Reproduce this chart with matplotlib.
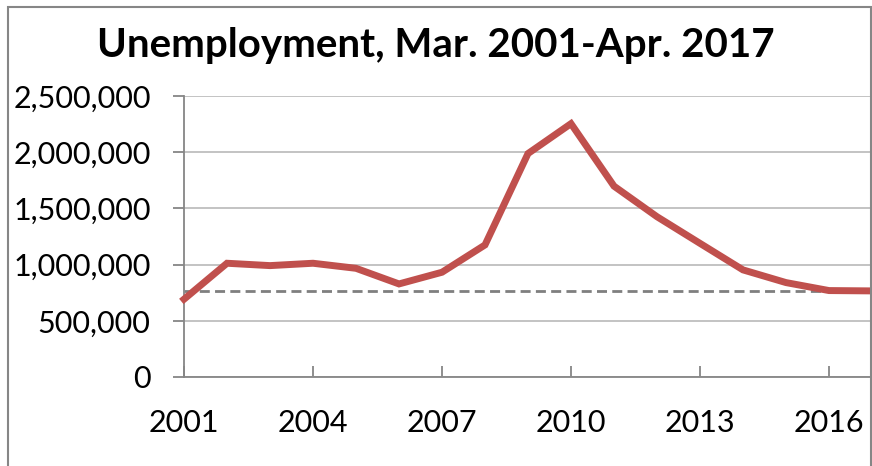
import matplotlib
matplotlib.use("Agg")
from matplotlib import pyplot as plt
from matplotlib.patches import Rectangle
from matplotlib.ticker import FuncFormatter

years = [2001, 2002, 2003, 2004, 2005, 2006, 2007, 2008, 2009,
         2010, 2011, 2012, 2013, 2014, 2015, 2016, 2017]
unemployed = [692000, 1012000, 991000, 1012000, 967000, 828000, 932000,
              1175000, 1988000, 2254000, 1698000, 1426000, 1189000,
              953000, 840000, 769000, 766000]
reference_level = 763000
tick_years = [2001, 2004, 2007, 2010, 2013, 2016]
y_ticks = [0, 500000, 1000000, 1500000, 2000000, 2500000]

plt.rcParams['font.family'] = ['Lato', 'DejaVu Sans']

fig = plt.figure(figsize=(8.72, 4.66), dpi=100)
ax = fig.add_axes([184/872, 1 - 377/466, 1 - 184/872, (377 - 96)/466])

ax.plot(years, unemployed, color="#C0504D", linewidth=5, solid_joinstyle="miter", zorder=3, clip_on=False)
ax.axhline(reference_level, color="#7F7F7F", linewidth=2, dashes=(3.6, 1.9), zorder=2)

ax.set_xlim(2001, 2017)
ax.set_ylim(0, 2500000)
ax.set_xticks(tick_years)
ax.set_yticks(y_ticks)
ax.yaxis.set_major_formatter(FuncFormatter(lambda v, p: "{:,.0f}".format(v)))
ax.grid(axis="y", color="#BEBEBE", linewidth=1.3)
ax.set_axisbelow(True)

for side in ["top", "right"]:
    ax.spines[side].set_visible(False)
for side in ["left", "bottom"]:
    ax.spines[side].set_color("#868686")
    ax.spines[side].set_linewidth(1.3)

ax.tick_params(axis="y", direction="out", length=8, width=1.3, color="#868686",
               labelsize=22, pad=16)
ax.tick_params(axis="x", direction="in", length=8, width=1.3, color="#868686",
               labelsize=22, pad=23)

fig.text(0.5, 1 - 45/466, "Unemployment, Mar. 2001-Apr. 2017", ha="center", va="center",
         fontsize=29, fontweight="bold")

fig.patches.append(Rectangle((8/872, -0.1), 863/872, 1.1 - 7/466, transform=fig.transFigure,
                             fill=False, edgecolor="#868686", linewidth=1.5))

fig.savefig("out.png", dpi=100)
